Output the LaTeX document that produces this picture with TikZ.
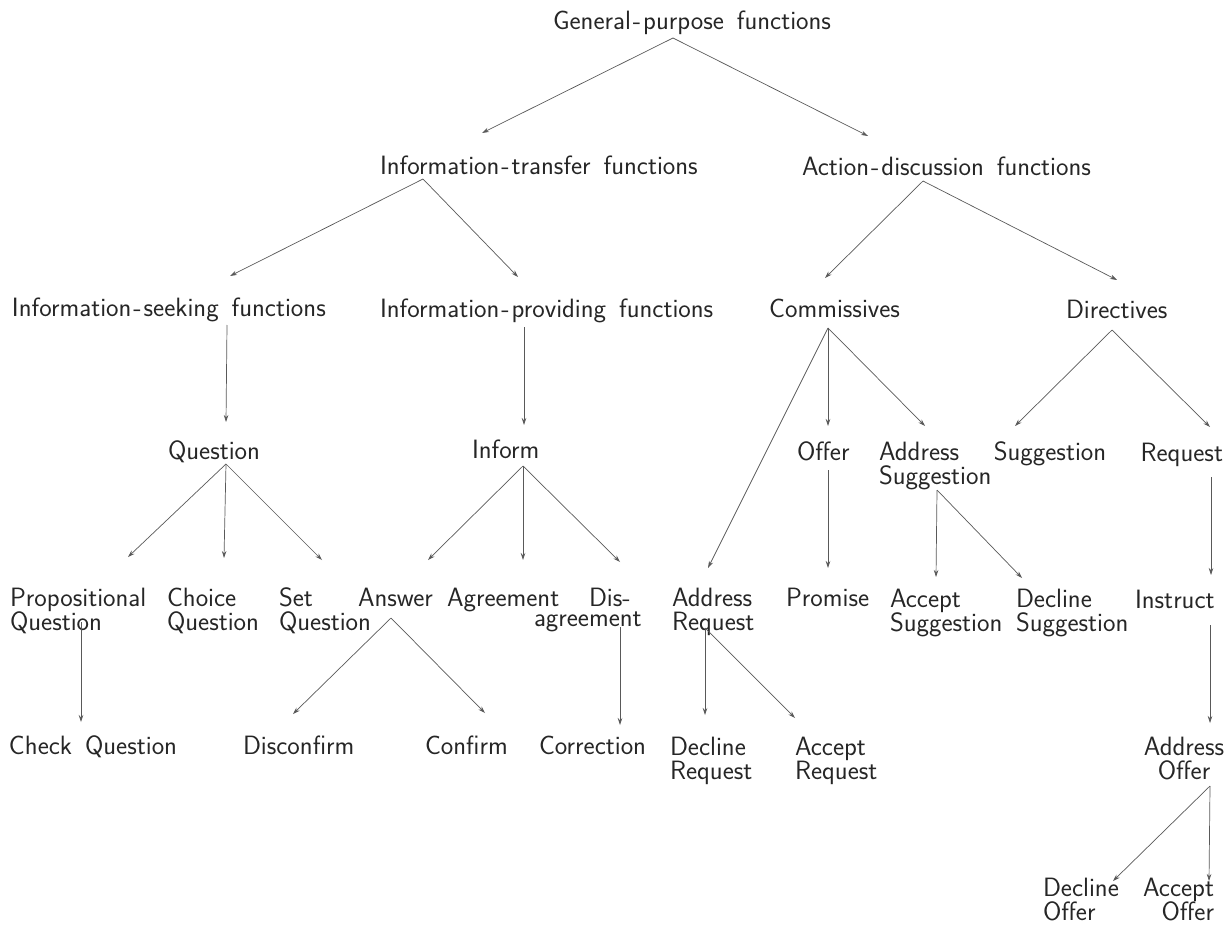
\documentclass[tikz,border=0pt]{standalone}
\usepackage{fontspec}
\usetikzlibrary{arrows.meta}
\newcommand{\labfont}{\sffamily\fontsize{26.5}{19.5}\selectfont\spaceskip=13pt\relax}
\newcommand{\hyp}{\kern2pt-\kern2pt}
\newcommand{\twol}[3][l]{\begin{tabular}[t]{@{}#1@{}}#2\\#3\end{tabular}}
\tikzset{
  lab/.style={inner sep=0pt, outer sep=0pt, font=\labfont, text=black!85},
  lw/.style={lab, anchor=base west},
  le/.style={lab, anchor=base east},
  arr/.style={-{Stealth[length=7pt,width=4.5pt]}, draw=black!65, line width=0.7pt},
}
\begin{document}
\begin{tikzpicture}[x=1pt,y=-1pt]
\useasboundingbox (0,0) rectangle (1230,925);
\renewcommand{\arraystretch}{1}
% ---------- labels ----------
\node[lw] (gpf) at (553,30) {General\hyp purpose functions};
\node[lw] (it) at (380,175) {Information\hyp transfer functions};
\node[lw] (adf) at (802,176) {Action\hyp discussion functions};
\node[lw] (is) at (12,316) {Information\hyp seeking functions};
\node[lw] (ip) at (380,317) {Information\hyp providing functions};
\node[le] (comm) at (900,317) {Commissives};
\node[lw] (dir) at (1066,318) {Directives};
\node[lw] (question) at (168,459) {Question};
\node[lw] (inform) at (472,458) {Inform};
\node[lw] (offer) at (797,460) {Offer};
\node[lw] (addsug) at (879,460) {\twol{Address}{Suggestion}};
\node[lab, anchor=base] (sugg) at (1050,460) {Suggestion};
\node[le] (request) at (1223,461) {Request};
\node[lw] (propq) at (10,606) {\twol{Propositional}{Question}};
\node[lw] (choiceq) at (167,606) {\twol{Choice}{Question}};
\node[lw] (setq) at (279,606) {\twol{Set}{Question}};
\node[lw] (answer) at (358,606) {Answer};
\node[lw] (agree) at (447,606) {Agreement};
\node[lw] (disagree) at (534,606) {\twol{\hspace*{55pt}Dis-}{agreement}};
\node[lw] (addreq) at (672,606) {\twol{Address}{Request}};
\node[lw] (promise) at (786,606) {Promise};
\node[lw] (accsug) at (890,607) {\twol{Accept}{Suggestion}};
\node[lw] (decsug) at (1016,607) {\twol{Decline}{Suggestion}};
\node[lw] (instruct) at (1135,608) {Instruct};
\node[lw] (checkq) at (9,754) {Check Question};
\node[lw] (disconfirm) at (243,754) {Disconfirm};
\node[lw] (confirm) at (425,754) {Confirm};
\node[lw] (correction) at (539,754) {Correction};
\node[lw] (decreq) at (670,755) {\twol{Decline}{Request}};
\node[lw] (accreq) at (795,755) {\twol{Accept}{Request}};
\node[lab, anchor=base] (addoff) at (1184,755) {\twol[c]{Address}{Offer}};
\node[lw] (decoff) at (1043,896) {\twol{Decline}{Offer}};
\node[le] (accoff) at (1214,896) {\twol[r]{Accept}{Offer}};
% ---------- connector ends ----------
\coordinate (gpf-out) at (673,38);
\coordinate (it-in) at (482,133);   \coordinate (it-out) at (423,179);
\coordinate (adf-in) at (868,136);  \coordinate (adf-out) at (923,181);
\coordinate (is-in) at (230,276);   \coordinate (is-out) at (227,325);
\coordinate (ip-in) at (518,277);   \coordinate (ip-out) at (524,327);
\coordinate (comm-in) at (825,278); \coordinate (comm-out) at (828,328);
\coordinate (dir-in) at (1117,280); \coordinate (dir-out) at (1112,330);
\coordinate (question-in) at (226,422); \coordinate (question-out) at (226,464);
\coordinate (inform-in) at (524,425);   \coordinate (inform-out) at (523,466);
\coordinate (offer-in) at (828,426);    \coordinate (offer-out) at (828,470);
\coordinate (addsug-in) at (925,426);   \coordinate (addsug-out) at (937,490);
\coordinate (sugg-in) at (1015,426);
\coordinate (request-in) at (1210,427); \coordinate (request-out) at (1211,477);
\coordinate (propq-in) at (128,557);    \coordinate (propq-out) at (81,622);
\coordinate (choiceq-in) at (224,558);
\coordinate (setq-in) at (322,560);
\coordinate (answer-in) at (428,560);   \coordinate (answer-out) at (391,618);
\coordinate (agree-in) at (523,560);
\coordinate (disagree-in) at (620,562); \coordinate (disagree-out) at (620,627);
\coordinate (addreq-in) at (708,568);   \coordinate (addreq-out) at (705,628);
\coordinate (promise-in) at (828,568);
\coordinate (accsug-in) at (936,577);
\coordinate (decsug-in) at (1022,578);
\coordinate (instruct-in) at (1211,575); \coordinate (instruct-out) at (1210,625);
\coordinate (checkq-in) at (81,722);
\coordinate (disconfirm-in) at (293,714);
\coordinate (confirm-in) at (485,713);
\coordinate (correction-in) at (620,725);
\coordinate (decreq-in) at (705,715);
\coordinate (accreq-in) at (795,718);
\coordinate (addoff-in) at (1210,723);  \coordinate (addoff-out) at (1210,786);
\coordinate (decoff-in) at (1113,881);
\coordinate (accoff-in) at (1209,881);
% ---------- connectors ----------
\draw[arr] (gpf-out) -- (it-in);
\draw[arr] (gpf-out) -- (adf-in);
\draw[arr] (it-out) -- (is-in);
\draw[arr] (it-out) -- (ip-in);
\draw[arr] (adf-out) -- (comm-in);
\draw[arr] (adf-out) -- (dir-in);
\draw[arr] (is-out) -- (question-in);
\draw[arr] (ip-out) -- (inform-in);
\draw[arr] (comm-out) -- (addreq-in);
\draw[arr] (comm-out) -- (offer-in);
\draw[arr] (comm-out) -- (addsug-in);
\draw[arr] (dir-out) -- (sugg-in);
\draw[arr] (dir-out) -- (request-in);
\draw[arr] (question-out) -- (propq-in);
\draw[arr] (question-out) -- (choiceq-in);
\draw[arr] (question-out) -- (setq-in);
\draw[arr] (inform-out) -- (answer-in);
\draw[arr] (inform-out) -- (agree-in);
\draw[arr] (inform-out) -- (disagree-in);
\draw[arr] (offer-out) -- (promise-in);
\draw[arr] (addsug-out) -- (accsug-in);
\draw[arr] (addsug-out) -- (decsug-in);
\draw[arr] (request-out) -- (instruct-in);
\draw[arr] (propq-out) -- (checkq-in);
\draw[arr] (answer-out) -- (disconfirm-in);
\draw[arr] (answer-out) -- (confirm-in);
\draw[arr] (disagree-out) -- (correction-in);
\draw[arr] (addreq-out) -- (decreq-in);
\draw[arr] (addreq-out) -- (accreq-in);
\draw[arr] (instruct-out) -- (addoff-in);
\draw[arr] (addoff-out) -- (decoff-in);
\draw[arr] (addoff-out) -- (accoff-in);
\end{tikzpicture}
\end{document}
